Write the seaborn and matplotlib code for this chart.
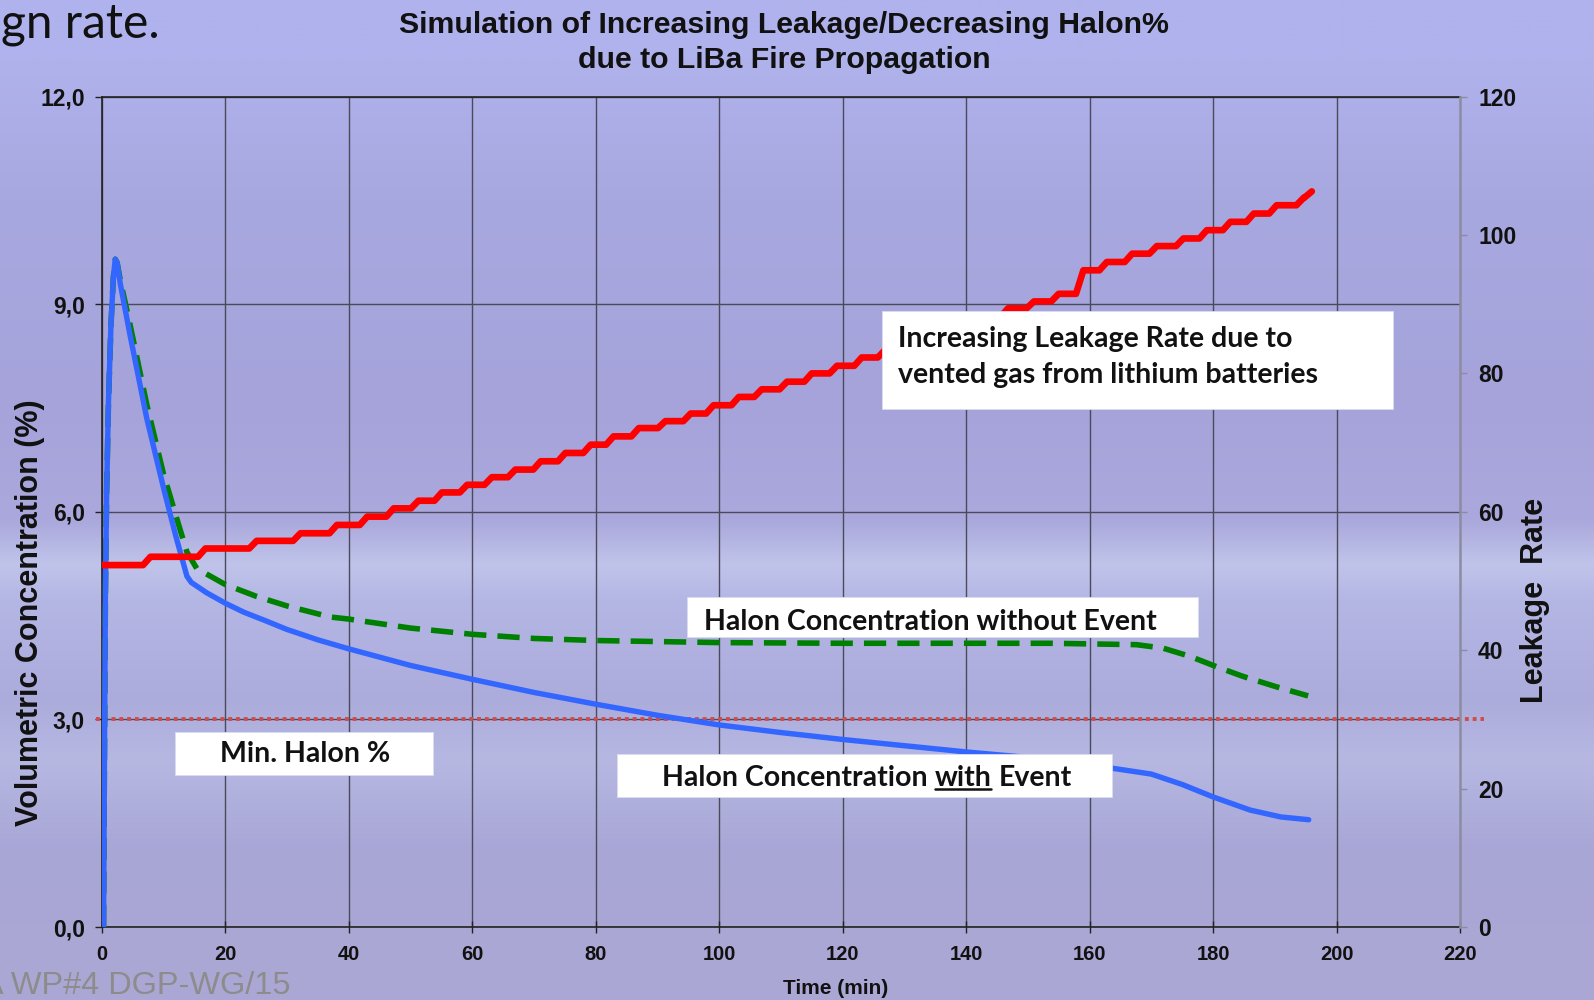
import numpy as np
import pandas as pd
import matplotlib
matplotlib.use("Agg")
import matplotlib.pyplot as plt
import seaborn as sns
from matplotlib.patches import Rectangle
from matplotlib.colors import to_rgb

# ---------------- data ----------------
time_with = [0.3, 0.45, 0.6, 0.8, 1.1, 1.5, 1.9, 2.2, 2.5, 3.0, 4.6, 7.3, 10.0, 12.0, 13.8,
             14.5, 17.0, 20.0, 23.0, 26.7, 30.0, 35.0, 40.0, 50.0, 60.0, 70.0, 80.0, 90.0,
             100.0, 110.0, 120.0, 130.0, 140.0, 150.0, 158.0, 164.0, 170.0, 175.0, 180.0,
             186.0, 191.0, 195.5]
conc_with = [0.0, 2.5, 4.8, 6.3, 7.6, 8.7, 9.4, 9.65, 9.6, 9.3, 8.55, 7.35, 6.35, 5.65, 5.07,
             4.98, 4.83, 4.68, 4.55, 4.42, 4.30, 4.15, 4.02, 3.78, 3.58, 3.39, 3.22, 3.06,
             2.92, 2.81, 2.71, 2.62, 2.53, 2.45, 2.37, 2.29, 2.21, 2.06, 1.88, 1.69, 1.59, 1.55]

time_without = [0.3, 0.45, 0.6, 0.8, 1.1, 1.5, 1.9, 2.2, 2.5, 3.0, 4.6, 7.3, 10.0, 12.0, 13.8,
                15.4, 20.0, 25.0, 30.0, 37.0, 40.0, 50.0, 60.0, 70.0, 80.0, 100.0, 120.0, 140.0,
                153.6, 167.6, 171.9, 176.3, 180.6, 184.9, 190.3, 195.4]
conc_without = [0.0, 2.5, 4.8, 6.3, 7.6, 8.7, 9.4, 9.65, 9.6, 9.35, 8.7, 7.55, 6.55, 5.95, 5.42,
                5.18, 4.95, 4.78, 4.64, 4.48, 4.45, 4.32, 4.23, 4.17, 4.14, 4.11, 4.10, 4.10,
                4.10, 4.08, 4.03, 3.91, 3.76, 3.62, 3.47, 3.34]

leak_start_level = 52.3
leak_step_time = [7.3, 16.2, 24.5, 31.6, 37.5, 42.4, 46.7, 50.7, 54.5, 58.6, 62.6, 66.4, 70.5,
                  74.5, 78.6, 82.3, 86.4, 90.7, 94.8, 98.5, 102.6, 106.3, 110.4, 114.4, 118.5,
                  122.5, 126.3, 130.3, 134.2, 138.2, 142.2, 146.2, 150.4, 154.4, 158.4, 162.2,
                  166.3, 170.3, 174.6, 178.4, 182.2, 186.0, 189.7, 194.1, 195.4]
leak_step_level = [53.5, 54.7, 55.8, 56.9, 58.1, 59.3, 60.5, 61.6, 62.8, 63.9, 65.0, 66.1, 67.3,
                   68.5, 69.7, 70.9, 72.1, 73.1, 74.2, 75.4, 76.6, 77.7, 78.8, 80.0, 81.1,
                   82.3, 83.4, 84.6, 85.8, 87.0, 88.2, 89.4, 90.4, 91.5, 94.9, 96.1,
                   97.3, 98.4, 99.5, 100.7, 101.9, 103.1, 104.3, 105.4, 106.3]
leak_end_time = 196.0

min_halon = 3.0

x_ticks = [0, 20, 40, 60, 80, 100, 120, 140, 160, 180, 200, 220]
left_ticks = [0.0, 3.0, 6.0, 9.0, 12.0]
left_tick_labels = ["0,0", "3,0", "6,0", "9,0", "12,0"]
right_ticks = [0, 20, 40, 60, 80, 100, 120]

title_lines = ["Simulation of Increasing Leakage/Decreasing Halon%",
               "due to LiBa Fire Propagation"]

# ---------------- style ----------------
sns.set_theme(style="white")
plt.rcParams['font.family'] = ['Liberation Sans', 'DejaVu Sans']

W, H = 1594, 1000
fig = plt.figure(figsize=(W / 100, H / 100), dpi=100)

# slide background (vertical gradient)
stops = [(0.00, "#afb2ec"), (0.06, "#b0b2ec"), (0.20, "#a8a8e0"), (0.40, "#a5a3da"),
         (0.52, "#aaa8dc"), (0.565, "#c0c4ea"), (0.60, "#b4b6e4"), (0.70, "#acacdc"),
         (0.76, "#b6b8e2"), (0.85, "#a8a6d6"), (1.00, "#aca8d4")]
pos = np.array([s[0] for s in stops])
cols = np.array([to_rgb(s[1]) for s in stops])
yy = np.linspace(0, 1, 400)
grad = np.stack([np.interp(yy, pos, cols[:, k]) for k in range(3)], axis=-1)[:, None, :]
bg = fig.add_axes([0, 0, 1, 1], zorder=-10)
bg.imshow(grad, aspect="auto", extent=[0, 1, 0, 1], origin="upper")
bg.set_axis_off()

def fx(px):
    return px / W

def fy(py):
    return 1 - py / H

ax_l, ax_r, ax_t, ax_b = 101.7, 1460.0, 96.6, 927.0
ax = fig.add_axes([fx(ax_l), fy(ax_b), fx(ax_r - ax_l), (ax_b - ax_t) / H])
ax.patch.set_alpha(0)
ax2 = ax.twinx()
ax2.patch.set_alpha(0)

# Halon curves
df_with = pd.DataFrame({"t": time_with, "c": conc_with})
df_without = pd.DataFrame({"t": time_without, "c": conc_without})
sns.lineplot(data=df_without, x="t", y="c", ax=ax, color="#008000", lw=4.0,
             linestyle=(0, (4, 2)), sort=False, estimator=None, zorder=3)
sns.lineplot(data=df_with, x="t", y="c", ax=ax, color="#3366ff", lw=3.9,
             sort=False, estimator=None, zorder=4, solid_joinstyle="round",
             solid_capstyle="round")

# min Halon reference line
ax.axhline(min_halon, xmin=-0.004, xmax=1.018, color="#d24b4b", lw=2.8,
           linestyle=(0, (1, 1)), clip_on=False, zorder=2)

# Leakage staircase
lx, ly = [0.0], [leak_start_level]
prev = leak_start_level
for t, lv in zip(leak_step_time, leak_step_level):
    lx += [t - 0.6, t + 0.6]
    ly += [prev, lv]
    prev = lv
lx.append(leak_end_time)
ly.append(prev)
df_leak = pd.DataFrame({"t": lx, "r": ly})
sns.lineplot(data=df_leak, x="t", y="r", ax=ax2, color="#ff0000", lw=4.8, sort=False,
             estimator=None, solid_joinstyle="round", solid_capstyle="round", zorder=5)

# axes limits/ticks
ax.set_xlim(0, 220)
ax.set_ylim(0, 12)
ax2.set_ylim(0, 120)
ax.set_xticks(x_ticks)
ax.set_yticks(left_ticks)
ax.set_yticklabels(left_tick_labels)
ax2.set_yticks(right_ticks)
ax.set_xlabel("")
ax.set_ylabel("")
ax2.set_ylabel("")

ax.grid(True, color="#4a4a5a", lw=1.0)
ax.get_xgridlines()[-1].set_visible(False)
ax.set_axisbelow(True)

for sp in ["left", "bottom", "top"]:
    ax.spines[sp].set_color("#222222")
    ax.spines[sp].set_linewidth(1.2)
ax.spines["right"].set_visible(False)
for sp in ["left", "bottom", "top"]:
    ax2.spines[sp].set_visible(False)
ax2.spines["right"].set_color("#8c8ca0")
ax2.spines["right"].set_linewidth(1.8)

ax.tick_params(axis="x", direction="inout", length=8, width=1, color="#222222",
               pad=9, labelsize=14.5, bottom=True)
ax.tick_params(axis="y", direction="out", length=5, width=1, color="#222222",
               pad=7, labelsize=16.5, left=True)
ax2.tick_params(axis="y", direction="out", length=5, width=1, color="#8c8ca0",
                pad=8, labelsize=16.5, right=True)
for lab in ax.get_xticklabels() + ax.get_yticklabels() + ax2.get_yticklabels():
    lab.set_fontweight("bold")
    lab.set_color("#111111")

# titles and labels
fig.text(fx(784), fy(25), title_lines[0], ha="center", va="center", fontsize=21.8,
         fontweight="bold", color="#111111")
fig.text(fx(784), fy(60), title_lines[1], ha="center", va="center", fontsize=21.8,
         fontweight="bold", color="#111111")
fig.text(fx(30.5), fy(613), "Volumetric Concentration (%)", rotation=90, ha="center",
         va="center", fontsize=22, fontweight="bold", color="#111111")
fig.text(fx(1535), fy(600), "Leakage  Rate", rotation=90, ha="center", va="center",
         fontsize=22, fontweight="bold", color="#111111")
fig.text(fx(836), fy(989), "Time (min)", ha="center", va="center", fontsize=15,
         fontweight="bold", color="#111111")

# slide fragments
fig.text(fx(1), fy(37), "gn rate.", ha="left", va="baseline", fontsize=34.5,
         family=["Lato", "DejaVu Sans"], color="#111111")
fig.text(fx(-18), fy(994), "A WP#4 DGP-WG/15", ha="left", va="baseline", fontsize=23.4,
         color="#8c8c8c")

# annotation boxes
def box(x0, y0, x1, y1):
    r = Rectangle((fx(x0), fy(y1)), fx(x1 - x0), (y1 - y0) / H, transform=fig.transFigure,
                  facecolor="white", edgecolor="#dcdcf0", lw=0.6, zorder=5)
    fig.add_artist(r)

box_font = dict(fontsize=20.5, fontweight="bold", family=["Lato", "DejaVu Sans"],
                color="#111111", va="center", ha="left", zorder=6)
box(882, 311, 1393, 409)
fig.text(fx(898), fy(339), "Increasing Leakage Rate due to", **box_font)
fig.text(fx(898), fy(375.5), "vented gas from lithium batteries", **box_font)
box(687, 597, 1198, 637)
fig.text(fx(703.5), fy(622.5), "Halon Concentration without Event", **box_font)
box(175, 732, 433, 775)
fig.text(fx(219.6), fy(754.5), "Min. Halon %", **box_font)
box(617, 754, 1112, 797)
t1 = fig.text(fx(662), fy(777.5), "Halon Concentration", **box_font)

fig.canvas.draw()
rend = fig.canvas.get_renderer()
probe1 = fig.text(0, 0, "H H", **box_font)
probe2 = fig.text(0, 0, "HH", **box_font)
space_w = probe1.get_window_extent(rend).width - probe2.get_window_extent(rend).width
probe1.remove()
probe2.remove()
bb1 = t1.get_window_extent(rend)
t2 = fig.text((bb1.x1 + space_w) / W, fy(777.5), "with", **box_font)
bb2 = t2.get_window_extent(rend)
t3 = fig.text((bb2.x1 + space_w) / W, fy(777.5), "Event", **box_font)
uy = fy(789)
fig.add_artist(plt.Line2D([bb2.x0 / W, bb2.x1 / W], [uy, uy], transform=fig.transFigure,
                          color="#111111", lw=1.8, zorder=6))

fig.savefig("out.png", dpi=100)
